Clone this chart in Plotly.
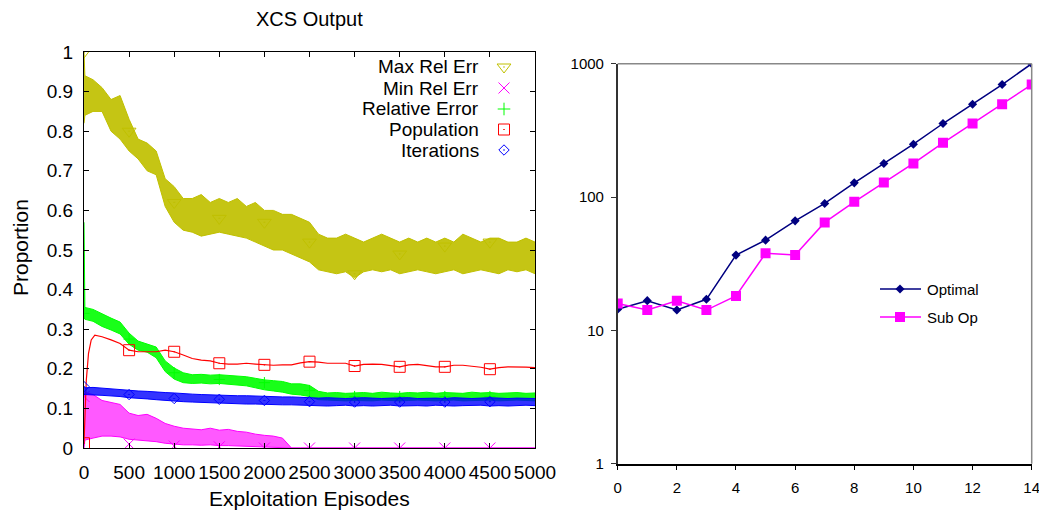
import plotly.graph_objects as go

# ---------------- Left panel: XCS Output ----------------
episodes = [0, 10] + list(range(100, 5001, 100))
mark_ep = [0, 500, 1000, 1500, 2000, 2500, 3000, 3500, 4000, 4500]

max_err_hi = [1.00, 0.94, 0.93, 0.91, 0.88, 0.89, 0.83, 0.78, 0.77, 0.75, 0.68, 0.66, 0.63, 0.63, 0.64,
              0.62, 0.63, 0.62, 0.63, 0.61, 0.62, 0.60, 0.60, 0.59, 0.59, 0.58, 0.57, 0.54, 0.53, 0.53,
              0.54, 0.53, 0.52, 0.53, 0.54, 0.53, 0.52, 0.53, 0.52, 0.53, 0.52, 0.53, 0.52, 0.54, 0.53,
              0.52, 0.53, 0.53, 0.52, 0.52, 0.53, 0.52]
max_err_lo = [0.82, 0.84, 0.85, 0.85, 0.80, 0.78, 0.75, 0.73, 0.70, 0.69, 0.61, 0.57, 0.55, 0.545, 0.535,
              0.54, 0.545, 0.54, 0.535, 0.53, 0.52, 0.51, 0.50, 0.50, 0.49, 0.48, 0.47, 0.45, 0.445, 0.44,
              0.445, 0.43, 0.445, 0.45, 0.445, 0.45, 0.44, 0.445, 0.45, 0.445, 0.44, 0.445, 0.45, 0.44,
              0.445, 0.45, 0.445, 0.44, 0.45, 0.445, 0.45, 0.44]
max_err_marks = [1.0, 0.80, 0.62, 0.58, 0.57, 0.52, 0.44, 0.49, 0.51, 0.52]

min_err_hi = [0.13, 0.14, 0.135, 0.12, 0.115, 0.11, 0.088, 0.082, 0.085, 0.075, 0.062, 0.055, 0.05, 0.048,
              0.046, 0.05, 0.045, 0.047, 0.042, 0.04, 0.035, 0.032, 0.03, 0.025] + [0.0] * 28
min_err_lo = [0.0, 0.02, 0.025, 0.03, 0.03, 0.028, 0.022, 0.02, 0.018, 0.016, 0.012, 0.01, 0.008, 0.008,
              0.007, 0.008, 0.006, 0.006, 0.005, 0.004, 0.004, 0.003, 0.002, 0.0] + [0.0] * 28
min_err_marks = [0.13, 0.01, 0.005, 0.003, 0.0, 0.0, 0.0, 0.0, 0.0, 0.0]

rel_err_hi = [0.57, 0.355, 0.35, 0.338, 0.328, 0.318, 0.29, 0.27, 0.262, 0.255, 0.22, 0.202, 0.19, 0.185,
              0.186, 0.184, 0.185, 0.183, 0.182, 0.18, 0.176, 0.172, 0.17, 0.168, 0.162, 0.162, 0.158,
              0.143, 0.139, 0.14, 0.138, 0.139, 0.14, 0.138, 0.141, 0.139, 0.138, 0.14, 0.139, 0.141,
              0.138, 0.14, 0.139, 0.138, 0.141, 0.139, 0.14, 0.138, 0.139, 0.14, 0.138, 0.139]
rel_err_lo = [0.33, 0.325, 0.32, 0.307, 0.298, 0.288, 0.262, 0.247, 0.242, 0.228, 0.193, 0.174, 0.165,
              0.163, 0.164, 0.162, 0.163, 0.161, 0.16, 0.157, 0.152, 0.147, 0.144, 0.141, 0.136, 0.134,
              0.13, 0.122, 0.121, 0.12, 0.119, 0.12, 0.12, 0.119, 0.121, 0.12, 0.119, 0.12, 0.121, 0.12,
              0.119, 0.12, 0.121, 0.119, 0.12, 0.12, 0.121, 0.119, 0.12, 0.121, 0.12, 0.119]
rel_err_marks = [0.34, 0.275, 0.19, 0.173, 0.165, 0.145, 0.13, 0.13, 0.13, 0.13]

pop_ep = [0, 25, 50, 80, 120, 200, 300, 400] + list(range(500, 5001, 100))
population = [0.012, 0.17, 0.239, 0.273, 0.285, 0.281, 0.273, 0.264,
              0.247, 0.243, 0.243, 0.243, 0.247, 0.243, 0.235, 0.226, 0.222, 0.22,
              0.214, 0.212, 0.212, 0.214, 0.212, 0.21, 0.209, 0.21, 0.21, 0.215,
              0.218, 0.217, 0.214, 0.214, 0.214, 0.207, 0.211, 0.212, 0.211, 0.208,
              0.205, 0.21, 0.211, 0.208, 0.205, 0.205, 0.209, 0.209, 0.207, 0.204,
              0.199, 0.203, 0.205, 0.205, 0.204, 0.203]

iter_hi = [0.155, 0.152, 0.153, 0.151, 0.149, 0.147, 0.145, 0.144, 0.143, 0.141, 0.14, 0.139,
           0.137, 0.136, 0.135, 0.134, 0.134, 0.133, 0.132, 0.132, 0.131, 0.13, 0.129, 0.129, 0.129,
           0.128, 0.127,
           0.126, 0.127, 0.126, 0.125, 0.126, 0.127, 0.126, 0.125, 0.126, 0.126, 0.127, 0.125, 0.126,
           0.126, 0.125, 0.127, 0.126, 0.125, 0.126, 0.127, 0.126, 0.125, 0.126, 0.126, 0.125]
iter_lo = [0.135, 0.135, 0.134, 0.133, 0.132, 0.13, 0.127, 0.126, 0.124, 0.122, 0.12, 0.118,
           0.117, 0.116, 0.115, 0.115, 0.114, 0.113, 0.112, 0.111, 0.111, 0.11, 0.109, 0.109, 0.109,
           0.108, 0.107,
           0.107, 0.106, 0.107, 0.108, 0.106, 0.107, 0.106, 0.107, 0.108, 0.106, 0.107, 0.107, 0.106,
           0.108, 0.107, 0.106, 0.107, 0.107, 0.108, 0.106, 0.107, 0.106, 0.107, 0.108, 0.107]
iter_marks = [0.155, 0.135, 0.125, 0.123, 0.12, 0.117, 0.116, 0.116, 0.116, 0.117]

left_series = ["Max Rel Err", "Min Rel Err", "Relative Error", "Population", "Iterations"]
x_ticks_left = list(range(0, 5001, 500))

# ---------------- Right panel ----------------
steps = [0, 1, 2, 3, 4, 5, 6, 7, 8, 9, 10, 11, 12, 13, 14]
optimal = [14.4, 16.7, 14.2, 17.1, 36.7, 47.5, 66.3, 89.5, 127.7, 178.6, 249, 356, 497, 698, 1000]
sub_op = [15.9, 14.2, 16.7, 14.2, 18.1, 37.8, 36.7, 64.5, 92, 128.6, 178.6, 255, 356, 497, 698]
y_ticks_right = [1, 10, 100, 1000]

# page geometry: the html body has an 8px margin, so the figure is drawn 8px in
VW, VH, OFF = 1047, 513, 8
W, H = VW - OFF, VH - OFF


def px(x):
    return (x - OFF) / W


def py(y):
    return 1 - (y - OFF) / H


FONT = "Liberation Sans, Arial, Helvetica, sans-serif"
YEL, MAG, GRN, RED, BLU = "#C0C000", "#FF00FF", "#00FF00", "#FF0000", "#0000FF"


def rgba(hexc, a):
    h = hexc.lstrip("#")
    return "rgba(%d,%d,%d,%.2f)" % (int(h[0:2], 16), int(h[2:4], 16), int(h[4:6], 16), a)


fig = go.Figure()


def band(hi, lo, color, alpha, name):
    fig.add_trace(go.Scatter(x=episodes, y=hi, mode="lines", line=dict(color=color, width=1),
                             showlegend=False, name=name, xaxis="x", yaxis="y"))
    fig.add_trace(go.Scatter(x=episodes, y=lo, mode="lines", line=dict(color=color, width=1),
                             fill="tonexty", fillcolor=rgba(color, alpha),
                             showlegend=False, name=name, xaxis="x", yaxis="y"))


def marks(vals, color, symbol, size, name):
    fig.add_trace(go.Scatter(x=mark_ep, y=vals, mode="markers",
                             marker=dict(symbol=symbol, size=size, color=color,
                                         line=dict(color=color, width=1)),
                             showlegend=False, name=name, xaxis="x", yaxis="y"))


band(max_err_hi, max_err_lo, YEL, 0.92, left_series[0])
marks(max_err_marks, YEL, "triangle-down-open-dot", 12, left_series[0])
band(min_err_hi, min_err_lo, MAG, 0.65, left_series[1])
marks(min_err_marks, MAG, "x-thin-open", 11, left_series[1])
band(rel_err_hi, rel_err_lo, GRN, 0.9, left_series[2])
marks(rel_err_marks, GRN, "cross-thin-open", 8, left_series[2])
fig.add_trace(go.Scatter(x=pop_ep, y=population, mode="lines", line=dict(color=RED, width=1.2),
                         showlegend=False, name=left_series[3], xaxis="x", yaxis="y"))
marks([population[pop_ep.index(e)] for e in mark_ep], RED, "square-open-dot", 11, left_series[3])
band(iter_hi, iter_lo, BLU, 0.8, left_series[4])
marks(iter_marks, BLU, "diamond-open-dot", 8, left_series[4])

# right panel series
fig.add_trace(go.Scatter(x=steps, y=optimal, mode="lines+markers", name="Optimal",
                         line=dict(color="#000080", width=1.5),
                         marker=dict(symbol="diamond", size=7, color="#000080"),
                         showlegend=False, xaxis="x2", yaxis="y2"))
fig.add_trace(go.Scatter(x=steps, y=sub_op, mode="lines+markers", name="Sub Op",
                         line=dict(color="#FF00FF", width=1.5),
                         marker=dict(symbol="square", size=10, color="#FF00FF"),
                         showlegend=False, xaxis="x2", yaxis="y2"))

# ---- legend keys on a hidden pixel-space overlay (page pixels) ----
leg_left_y = [67, 88, 109, 129.5, 150]
leg_left_sym = ["triangle-down-open-dot", "x-thin-open", "cross-thin-open", "square-open-dot", "diamond-open-dot"]
leg_left_size = [12, 11, 9, 11, 8]
leg_left_col = [YEL, MAG, GRN, RED, BLU]
for yy, sym, sz, col in zip(leg_left_y, leg_left_sym, leg_left_size, leg_left_col):
    fig.add_trace(go.Scatter(x=[504], y=[yy], mode="markers", xaxis="x3", yaxis="y3",
                             marker=dict(symbol=sym, size=sz, color=col, line=dict(color=col, width=1)),
                             showlegend=False, hoverinfo="skip"))

right_leg = [("Optimal", "#000080", "diamond", 7, 289), ("Sub Op", "#FF00FF", "square", 10, 317)]
for name, col, sym, sz, yy in right_leg:
    fig.add_trace(go.Scatter(x=[880, 921], y=[yy, yy], mode="lines", xaxis="x3", yaxis="y3",
                             line=dict(color=col, width=1.5), showlegend=False, hoverinfo="skip"))
    fig.add_trace(go.Scatter(x=[900], y=[yy], mode="markers", xaxis="x3", yaxis="y3",
                             marker=dict(symbol=sym, size=sz, color=col), showlegend=False, hoverinfo="skip"))

ann = []
for yy, name in zip(leg_left_y, left_series):
    ann.append(dict(x=px(481), y=py(yy), xref="paper", yref="paper", text=name, showarrow=False,
                    xanchor="right", yanchor="middle", font=dict(family=FONT, size=19, color="black")))
for name, col, sym, sz, yy in right_leg:
    ann.append(dict(x=px(925), y=py(yy), xref="paper", yref="paper", text=name, showarrow=False,
                    xanchor="left", yanchor="middle", font=dict(family=FONT, size=15, color="black")))
ann.append(dict(x=px(309), y=py(19), xref="paper", yref="paper", text="XCS Output", showarrow=False,
                xanchor="center", yanchor="middle", font=dict(family=FONT, size=20, color="black")))
ann.append(dict(x=px(309), y=py(498), xref="paper", yref="paper", text="Exploitation Episodes",
                showarrow=False, xanchor="center", yanchor="middle",
                font=dict(family=FONT, size=21, color="black")))
ann.append(dict(x=px(20), y=py(248), xref="paper", yref="paper", text="Proportion", textangle=-90,
                showarrow=False, xanchor="center", yanchor="middle",
                font=dict(family=FONT, size=21, color="black")))

L_axis = dict(showline=True, linecolor="black", linewidth=1, mirror="allticks", ticks="inside",
              ticklen=5, tickcolor="black", showgrid=False, zeroline=False, automargin=False,
              tickangle=0, tickfont=dict(family=FONT, size=19, color="black"))
R_axis = dict(showline=True, linewidth=1.5, mirror=False, ticks="outside", ticklen=5, automargin=False,
              tickangle=0, showgrid=False, zeroline=False, tickfont=dict(family=FONT, size=15, color="black"))

fig.update_layout(
    template="none",
    width=W, height=H, margin=dict(l=0, r=0, t=0, b=0, pad=0), autosize=False,
    paper_bgcolor="white", plot_bgcolor="rgba(0,0,0,0)", showlegend=False,
    xaxis=dict(domain=[px(84), px(535)], range=[0, 5000], tickvals=x_ticks_left, anchor="y",
               ticklabelstandoff=7, **L_axis),
    yaxis=dict(domain=[py(448), py(52)], range=[0, 1], dtick=0.1, anchor="x",
               ticklabelstandoff=6, **L_axis),
    xaxis2=dict(domain=[px(617.7), px(1031.7)], range=[0, 14], dtick=2, anchor="y2",
                linecolor="black", tickcolor="black", ticklabelstandoff=5, **R_axis),
    yaxis2=dict(domain=[py(463.7), py(63.7)], type="log", range=[0, 3], anchor="x2",
                tickvals=y_ticks_right, ticktext=[str(v) for v in y_ticks_right],
                linecolor="#333333", tickcolor="#333333", ticklabelstandoff=4, **R_axis),
    xaxis3=dict(domain=[0, 1], range=[OFF, VW], visible=False, fixedrange=True, anchor="y3"),
    yaxis3=dict(domain=[0, 1], range=[VH, OFF], visible=False, fixedrange=True, anchor="x3"),
    annotations=ann,
    shapes=[
        dict(type="line", xref="x2 domain", yref="y2 domain", x0=0, x1=1, y0=1, y1=1,
             line=dict(color="#888888", width=1.5)),
        dict(type="line", xref="x2 domain", yref="y2 domain", x0=1, x1=1, y0=0, y1=1,
             line=dict(color="#888888", width=1.5)),
    ],
)

fig.write_html("out.html")
